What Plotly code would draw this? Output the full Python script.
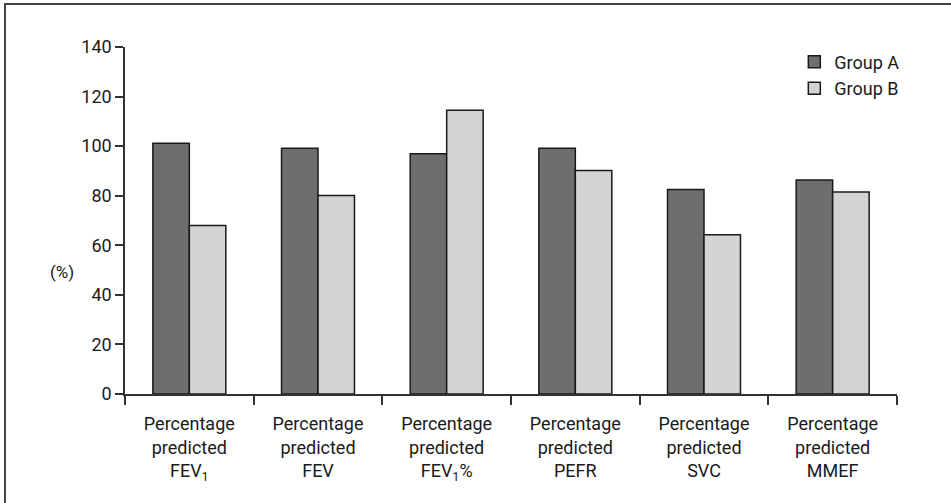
import plotly.graph_objects as go

categories = [
    "Percentage<br>predicted<br>FEV<sub>1</sub>",
    "Percentage<br>predicted<br>FEV",
    "Percentage<br>predicted<br>FEV<sub>1</sub>%",
    "Percentage<br>predicted<br>PEFR",
    "Percentage<br>predicted<br>SVC",
    "Percentage<br>predicted<br>MMEF",
]
group_a = [101.2, 99.2, 96.9, 99.2, 82.5, 86.3]
group_b = [68.0, 80.1, 114.5, 90.2, 64.3, 81.5]
y_ticks = [0, 20, 40, 60, 80, 100, 120, 140]

FONT = "Roboto, Liberation Sans, Arial, sans-serif"

fig = go.Figure()
fig.add_trace(go.Bar(x=categories, y=group_a, name="Group A",
                     marker=dict(color="#6d6e70", line=dict(color="#1a1a1a", width=1.5))))
fig.add_trace(go.Bar(x=categories, y=group_b, name="Group B",
                     marker=dict(color="#d1d3d4", line=dict(color="#1a1a1a", width=1.5))))

fig.update_layout(
    width=951, height=503,
    margin=dict(l=125, r=54, t=47, b=108.5),
    paper_bgcolor="white", plot_bgcolor="white",
    barmode="group", bargap=0.433, bargroupgap=0,
    font=dict(family=FONT, size=18, color="#1a1a1a"),
    showlegend=True,
    legend=dict(x=0.867, y=1.01, xanchor="left", yanchor="top",
                font=dict(family=FONT, size=18, color="#1a1a1a"),
                bgcolor="rgba(0,0,0,0)", tracegroupgap=0, itemwidth=30),
    xaxis=dict(showgrid=False, showline=True, linecolor="#333333", linewidth=1.5,
               ticks="outside", tickson="boundaries", ticklen=9, tickwidth=1.5,
               tickcolor="#333333", tickfont=dict(family=FONT, size=18),
               ticklabelstandoff=13),
    yaxis=dict(range=[0, 140], tickvals=y_ticks, showgrid=False, zeroline=False,
               showline=True, linecolor="#333333", linewidth=1.5,
               ticks="outside", ticklen=8, tickwidth=1.5, tickcolor="#333333",
               tickfont=dict(family=FONT, size=18)),
    annotations=[dict(text="(%)", xref="paper", yref="paper", x=-0.0997, y=0.3525,
                      showarrow=False, font=dict(family=FONT, size=17, color="#1a1a1a"))],
    shapes=[dict(type="rect", xref="paper", yref="paper",
                 x0=-0.1554, y0=-0.35, x1=1.10, y1=1.1237,
                 line=dict(color="#444444", width=2), layer="below")],
)

fig.write_html("out.html", config={"displayModeBar": False},
               post_script="document.body.style.margin='0';")
